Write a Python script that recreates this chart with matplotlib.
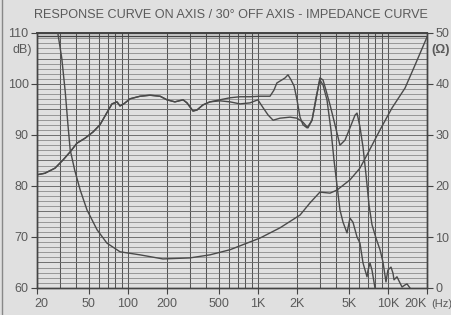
import matplotlib
matplotlib.use('Agg')
import matplotlib.pyplot as plt
from matplotlib.lines import Line2D
from matplotlib.transforms import ScaledTranslation

# On-axis response (Hz, dB)
on_freq = [20, 23, 27.5, 31.7, 36, 40.6, 47, 54, 61, 68, 75.5, 82.5, 87, 93, 104, 124, 148, 177,
           200, 230, 266, 285, 317, 340, 378, 428, 511, 610, 729, 870, 1040, 1240, 1330, 1400,
           1530, 1620, 1705, 1800, 1900, 2000, 2110, 2225, 2390, 2610, 2800, 3000, 3170, 3340,
           3590, 3920, 4280, 4680, 5110, 5590, 5790, 6100, 6440, 6790, 7160, 7550, 8100, 8700,
           9170, 9670, 10000, 10570, 10950, 11150, 11750, 12390, 12850, 13550, 14040, 14800]
on_db = [82.2, 82.5, 83.5, 85.1, 86.7, 88.4, 89.4, 90.6, 92.0, 94.1, 96.1, 96.5, 95.7, 96.1, 97.1,
         97.6, 97.8, 97.6, 96.9, 96.5, 96.9, 96.3, 94.7, 94.9, 95.9, 96.5, 96.9, 97.3, 97.5, 97.5,
         97.6, 97.6, 98.8, 100.2, 100.8, 101.2, 101.8, 100.8, 99.6, 96.9, 93.5, 92.0, 91.4, 92.9,
         96.9, 101.2, 100.8, 98.8, 95.9, 92.0, 88.0, 89.0, 91.4, 93.9, 94.3, 91.6, 87.6, 82.2,
         76.3, 72.4, 69.8, 67.5, 65.1, 61.2, 63.5, 64.1, 62.9, 61.6, 62.2, 61.0, 60.2, 60.6, 60.8,
         60.0]

# 30 degrees off axis (Hz, dB)
off_freq = [20, 23, 27.5, 31.7, 36, 40.6, 47, 54, 61, 68, 75.5, 82.5, 87, 93, 104, 124, 148, 177,
            200, 230, 266, 285, 317, 340, 378, 428, 511, 610, 729, 870, 1000, 1100, 1200, 1310,
            1480, 1770, 2000, 2225, 2430, 2610, 2800, 3000, 3170, 3400, 3650, 3850, 4060, 4280,
            4520, 4850, 5110, 5390, 5790, 6100, 6440, 6910, 7040, 7290, 7550, 7960]
off_db = [82.2, 82.5, 83.5, 85.1, 86.7, 88.4, 89.4, 90.6, 92.0, 94.1, 96.1, 96.5, 95.7, 96.1, 97.1,
          97.6, 97.8, 97.6, 96.9, 96.5, 96.9, 96.3, 94.7, 94.9, 95.9, 96.5, 96.7, 96.5, 96.1, 96.3,
          96.9, 95.3, 93.9, 92.9, 93.3, 93.5, 93.3, 92.5, 91.4, 92.9, 97.3, 100.8, 99.8, 96.9,
          91.0, 85.1, 80.2, 75.3, 72.9, 70.8, 73.7, 72.9, 70.0, 68.8, 64.9, 62.2, 63.5, 64.9,
          63.5, 60.0]

# Impedance (Hz, ohm)
imp_freq = [28.5, 31, 33, 34.6, 36, 39, 43, 48.5, 58, 69, 87, 124, 186, 300, 428, 610, 1040,
            1480, 2110, 2520, 3000, 3590, 4060, 5110, 6100, 6910, 8700, 10760, 13550, 16170, 20000]
imp_ohm = [51.0, 45.1, 38.4, 32.0, 27.1, 23.1, 19.2, 15.3, 11.4, 8.8, 7.1, 6.5, 5.7, 5.9, 6.5,
           7.5, 9.8, 11.8, 14.3, 16.7, 18.8, 18.6, 19.2, 21.2, 23.5, 26.1, 31.0, 35.3, 39.2, 43.7,
           49.2]

freq_ticks = [20, 50, 100, 200, 500, 1000, 2000, 5000, 10000, 20000]
freq_labels = ['20', '50', '100', '200', '500', '1K', '2K', '5K', '10K', '20K']
db_ticks = [60, 70, 80, 90, 100, 110]
ohm_ticks = [0, 10, 20, 30, 40, 50]

bg = '#e0e0e0'
ink = '#5a5a5a'
curve = '#4a4a4a'
fam = ['Liberation Sans Narrow', 'Liberation Sans', 'DejaVu Sans']
lab_size = 9

fig = plt.figure(figsize=(4.52, 3.15), dpi=100, facecolor=bg)
ax = fig.add_axes([37 / 452, 1 - 288 / 315, 390 / 452, 255 / 315])
ax.set_facecolor(bg)
ax.set_xscale('log')
ax.set_xlim(20, 20000)
ax.set_ylim(60, 110)

# grid: every 1-9 multiple vertically, every dB horizontally
vlines = [m * d for d in (10, 100, 1000, 10000) for m in range(1, 10) if 20 <= m * d <= 20000]
for f in vlines:
    ax.axvline(f, color='#555555', lw=0.75, zorder=1)
for v in range(61, 110):
    ax.axhline(v, color='#6e6e6e', lw=0.45 if v % 5 else 0.7, zorder=1)
ax.axhline(109.5, color='#444444', lw=1.0, zorder=1)

ax.plot(on_freq, on_db, color=curve, lw=1.0, zorder=3)
ax.plot(off_freq, off_db, color=curve, lw=1.0, zorder=3)

ax2 = ax.twinx()
ax2.set_ylim(0, 50)
ax2.plot(imp_freq, imp_ohm, color=curve, lw=1.0, zorder=3)

for a in (ax, ax2):
    for s in a.spines.values():
        s.set_color('#444444')
        s.set_linewidth(1.0)
ax.spines['top'].set_linewidth(1.4)

ax.set_xticks(freq_ticks)
ax.set_xticklabels(freq_labels)
ax.minorticks_off()
ax.set_yticks(db_ticks)
ax.set_yticklabels([str(v) for v in db_ticks])
ax2.set_yticks(ohm_ticks)
ax2.set_yticklabels([str(v) for v in ohm_ticks])

ax.tick_params(axis='x', length=4, width=0.8, color='#444444', pad=3, labelsize=lab_size, labelcolor=ink)
ax.tick_params(axis='y', length=4, width=0.8, color='#444444', pad=2, labelsize=lab_size, labelcolor=ink)
ax2.tick_params(axis='y', length=4, width=0.8, color='#444444', pad=2, labelsize=lab_size, labelcolor=ink)
for t in ax.get_xticklabels() + ax.get_yticklabels() + ax2.get_yticklabels():
    t.set_family(fam)

# end labels sit inside the frame like on the printed sheet
xl = ax.get_xticklabels()
xl[0].set_transform(xl[0].get_transform() + ScaledTranslation(4 / 100, 0, fig.dpi_scale_trans))
xl[-1].set_transform(xl[-1].get_transform() + ScaledTranslation(-12 / 100, 0, fig.dpi_scale_trans))

ax.text(-0.012, 106.6, 'dB)', transform=ax.get_yaxis_transform(), ha='right', va='center',
        fontsize=lab_size, color=ink, family=fam)
ax2.text(1.012, 46.6, '(Ω)', transform=ax2.get_yaxis_transform(), ha='left', va='center',
         fontsize=lab_size, color=ink, family=fam, fontweight='bold')
ax.text(1.01, -0.045, '(Hz)', transform=ax.transAxes, ha='left', va='top',
        fontsize=lab_size - 1, color=ink, family=fam)

fig.text(0.511, 0.952, 'RESPONSE CURVE ON AXIS / 30° OFF AXIS - IMPEDANCE CURVE',
         ha='center', va='center', fontsize=9.1, color=ink, family=fam)

fig.add_artist(Line2D([2 / 452, 2 / 452], [0, 1], color='#888888', lw=1.0))

fig.savefig('out.png', dpi=100, facecolor=bg)
